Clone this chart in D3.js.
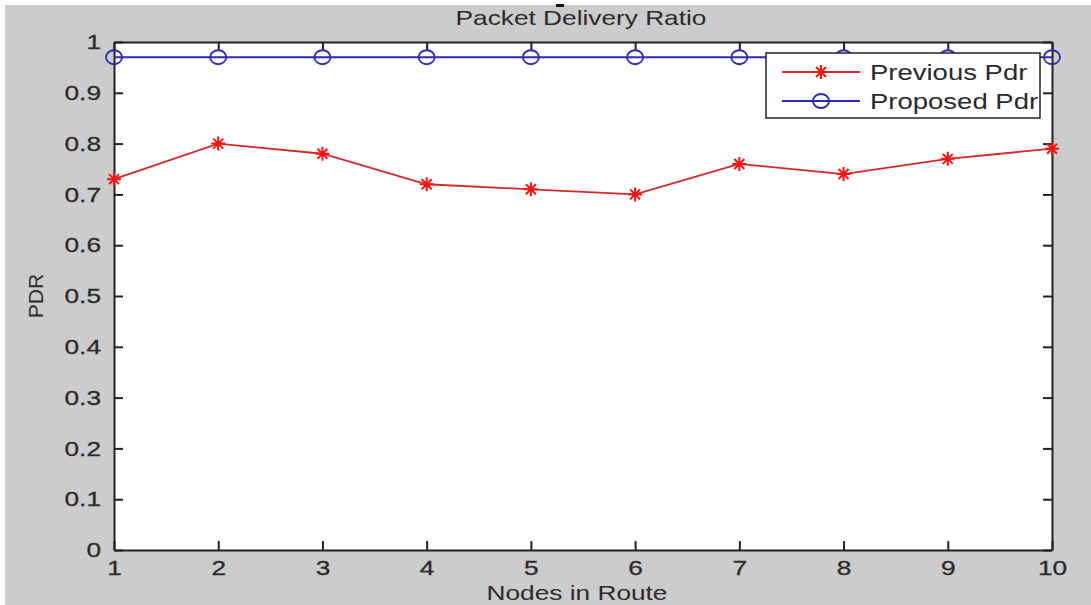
<!DOCTYPE html>
<html>
<head>
<meta charset="utf-8">
<style>
  body { margin: 0; background: #fff; }
  text { font-family: "Liberation Sans", Arial, sans-serif; fill: #2a2a2a; }
</style>
</head>
<body>
<script src="https://d3js.org/d3.v7.min.js"></script>
<script>
// data
var nodes = [1, 2, 3, 4, 5, 6, 7, 8, 9, 10];
var previousPdr = [0.73, 0.80, 0.78, 0.72, 0.71, 0.70, 0.76, 0.74, 0.77, 0.79];
var proposedPdr = [0.97, 0.97, 0.97, 0.97, 0.97, 0.97, 0.97, 0.97, 0.97, 0.97];
var yTicks = [0, 0.1, 0.2, 0.3, 0.4, 0.5, 0.6, 0.7, 0.8, 0.9, 1];

var W = 1091, H = 605;
var pLeft = 114, pRight = 1052, pTop = 42, pBottom = 550;
var sx = 1.25; // screenshot is stretched sideways, text too

var svg = d3.select('body').append('svg')
    .attr('width', W).attr('height', H);

// grey figure background, thin white border top/left like the screenshot
svg.append('rect').attr('x', 5).attr('y', 5).attr('width', W - 5).attr('height', H - 5)
    .attr('fill', '#cccccc');

var x = d3.scaleLinear().domain([1, 10]).range([pLeft, pRight]);
var y = d3.scaleLinear().domain([0, 1]).range([pBottom, pTop]);

svg.append('rect')
    .attr('x', pLeft).attr('y', pTop)
    .attr('width', pRight - pLeft).attr('height', pBottom - pTop)
    .attr('fill', '#fff');

// axes (matlab style: inward ticks on all four sides)
var tl = 9;
var xAxis = svg.append('g').attr('transform', 'translate(0,' + pBottom + ')')
    .call(d3.axisBottom(x).tickValues(nodes).tickSizeInner(-tl).tickSizeOuter(0).tickPadding(10).tickFormat(d3.format('d')));
svg.append('g').attr('transform', 'translate(0,' + pTop + ')')
    .call(d3.axisTop(x).tickValues(nodes).tickSizeInner(-tl).tickSizeOuter(0).tickFormat(''));
var yAxis = svg.append('g').attr('transform', 'translate(' + pLeft + ',0)')
    .call(d3.axisLeft(y).tickValues(yTicks).tickSizeInner(-tl).tickSizeOuter(0).tickPadding(10)
      .tickFormat(d => d === 0 || d === 1 ? d : d3.format('.1f')(d)));
svg.append('g').attr('transform', 'translate(' + pRight + ',0)')
    .call(d3.axisRight(y).tickValues(yTicks).tickSizeInner(-tl).tickSizeOuter(0).tickFormat(''));

svg.selectAll('.domain').attr('stroke', '#222').attr('stroke-width', 2);
svg.selectAll('.tick line').attr('stroke', '#222').attr('stroke-width', 2);
svg.selectAll('.tick text').attr('font-size', 21).attr('fill', '#2a2a2a')
    .attr('stroke', '#2a2a2a').attr('stroke-width', 0.3)
    .style('font-family', '"Liberation Sans", Arial, sans-serif');
xAxis.selectAll('.tick text').attr('transform', 'scale(' + sx + ',1)');
yAxis.selectAll('.tick text').attr('x', 0).attr('transform', 'translate(-13,0) scale(' + sx + ',1)');

var line = d3.line().x((d, i) => x(nodes[i])).y(d => y(d));

var red = '#d42828', blue = '#2a2ab8';

svg.append('path').datum(previousPdr).attr('d', line)
    .attr('fill', 'none').attr('stroke', red).attr('stroke-width', 1.8);
svg.append('path').datum(proposedPdr).attr('d', line)
    .attr('fill', 'none').attr('stroke', blue).attr('stroke-width', 1.8);

function star(g, cx, cy) {
  var s = 7, d = 5;
  g.append('path')
    .attr('d', 'M' + (cx - s) + ',' + cy + 'H' + (cx + s) +
               'M' + cx + ',' + (cy - s) + 'V' + (cy + s) +
               'M' + (cx - d) + ',' + (cy - d) + 'L' + (cx + d) + ',' + (cy + d) +
               'M' + (cx - d) + ',' + (cy + d) + 'L' + (cx + d) + ',' + (cy - d))
    .attr('stroke', '#ff1010').attr('stroke-width', 2);
}
function circ(g, cx, cy) {
  g.append('ellipse').attr('cx', cx).attr('cy', cy).attr('rx', 8).attr('ry', 7)
    .attr('fill', 'none').attr('stroke', blue).attr('stroke-width', 1.8);
}

var marks = svg.append('g');
previousPdr.forEach((v, i) => star(marks, x(nodes[i]), y(v)));
proposedPdr.forEach((v, i) => circ(marks, x(nodes[i]), y(v)));

function stretchedText(px, py, size, anchor, str) {
  return svg.append('text')
    .attr('transform', 'translate(' + px + ',' + py + ') scale(' + sx + ',1)')
    .attr('text-anchor', anchor).attr('font-size', size).text(str);
}

// legend
svg.append('rect').attr('x', 766).attr('y', 53).attr('width', 274).attr('height', 65)
    .attr('fill', '#fff').attr('stroke', '#222').attr('stroke-width', 1.5);
var entries = [['Previous Pdr', red, star], ['Proposed Pdr', blue, circ]];
entries.forEach(function(e, i) {
  var ly = 72 + i * 29;
  svg.append('line').attr('x1', 782).attr('x2', 860).attr('y1', ly).attr('y2', ly)
    .attr('stroke', e[1]).attr('stroke-width', 1.8);
  e[2](svg, 821, ly);
  stretchedText(870, ly + 8, 22, 'start', e[0]);
});

// titles
stretchedText(581, 25, 21, 'middle', 'Packet Delivery Ratio');
svg.append('rect').attr('x', 556).attr('y', 4).attr('width', 8).attr('height', 3).attr('fill', '#111');
stretchedText(577, 600, 21, 'middle', 'Nodes in Route');
svg.append('text').attr('transform', 'translate(43,296) rotate(-90)').attr('text-anchor', 'middle')
    .attr('font-size', 21).text('PDR');
</script>
</body>
</html>
